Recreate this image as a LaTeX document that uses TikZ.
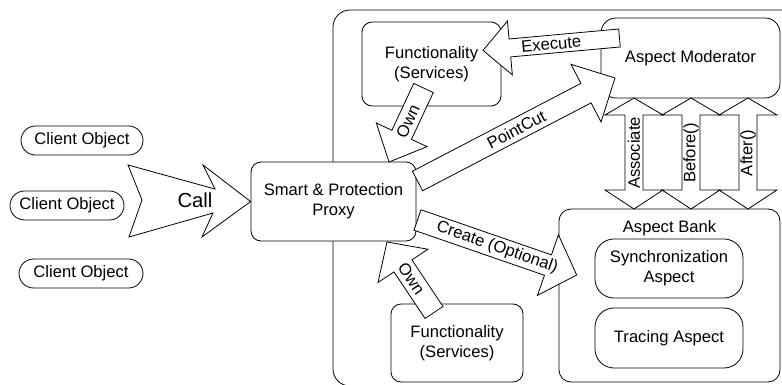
\documentclass[tikz,border=0pt]{standalone}
\usepackage{fontspec}
\setmainfont{Liberation Sans}
\usetikzlibrary{calc}
% Block arrow: #1 tail, #2 tip, #3 shaft half-width, #4 head length, #5 head half-width
\newcommand\blockarr[5]{%
  \coordinate (ba) at ($(#2)!#4!(#1)$);
  \draw[arrowbody] ($(#1)!#3!90:(#2)$) -- ($(ba)!#3!90:(#2)$) -- ($(ba)!#5!90:(#2)$) -- (#2)
    -- ($(ba)!#5!-90:(#2)$) -- ($(ba)!#3!-90:(#2)$) -- ($(#1)!#3!-90:(#2)$) -- cycle;
}
\begin{document}
\begin{tikzpicture}[x=1pt,y=-1pt,
  every node/.style={font=\fontsize{16.6}{20}\selectfont, inner sep=0pt, align=center},
  outline/.style={draw=black, line width=0.8pt},
  box/.style={outline, fill=white, rounded corners=#1},
  box/.default=10pt,
  pill/.style={outline, fill=white, rounded corners=14.5pt, minimum height=29pt},
  arrowbody/.style={outline, fill=white, line join=miter}]
\clip (0,0) rectangle (782,385);

% surrounding frame of the proxy side
\draw[outline, rounded corners=17pt] (800,10) -- (333,10) -- (333,386) -- (800,386);

% clients
\node[pill, minimum width=122pt] (client1) at (82,140.5) {Client Object};
\node[pill, minimum width=114pt] (client2) at (67,205.5) {Client Object};
\node[pill, minimum width=124pt] (client3) at (81,273.5) {Client Object};

% main boxes
\node[box, minimum width=165pt, minimum height=79pt] (proxy) at (333.5,201.5) {Smart \& Protection\\Proxy};
\node[box, minimum width=139pt, minimum height=84pt] (funcTop) at (431.5,64) {Functionality\\(Services)};
\node[box, minimum width=132pt, minimum height=78pt] (funcBot) at (457,343) {Functionality\\(Services)};
\node[box=15pt, minimum width=179pt, minimum height=80pt] (mod) at (690.5,58) {Aspect Moderator};
\node[box=12pt, minimum width=221pt, minimum height=173pt] (bank) at (669.5,295.5) {};
\node (bankTitle) at (669.5,228) {Aspect Bank};
\node[box=19pt, minimum width=148pt, minimum height=59pt] (sync) at (669,268.5) {Synchronization\\Aspect};
\node[box=19pt, minimum width=148pt, minimum height=60pt] (trace) at (669,338) {Tracing Aspect};

% call arrow from the clients into the proxy
\draw[arrowbody] (128,165) -- (215,189) -- (203,165) -- (proxy.west) -- (202,237)
  -- (213,213) -- (129,237) -- (142,200) -- cycle;
\node[font=\fontsize{20.3}{24}\selectfont] (callLbl) at (195,200) {Call};

% execute
\coordinate (exT) at (619.5,38);
\coordinate (exP) at (483,50.4);
\blockarr{exT}{exP}{9pt}{27pt}{27pt}
\path (exT) -- (exP) node[sloped, pos=0.5] (exLbl) {Execute};

% pointcut
\coordinate (pcT) at (417.5,181);
\coordinate (pcP) at (615,78);
\blockarr{pcT}{pcP}{11pt}{32.7pt}{32.5pt}
\path (pcT) -- (pcP) node[sloped, pos=0.5] (pcLbl) {PointCut};

% create
\coordinate (crT) at (417.5,220);
\coordinate (crP) at (576.7,275);
\blockarr{crT}{crP}{10.8pt}{30.4pt}{32pt}
\path (crT) -- (crP) node[sloped, pos=0.5] (crLbl) {Create (Optional)};

% own (upper functionality)
\coordinate (ownAT) at (423.5,88);
\coordinate (ownAP) at (389,162);
\blockarr{ownAT}{ownAP}{10.8pt}{30pt}{28pt}
\path (ownAT) -- (ownAP) node[sloped, pos=0.45] (ownALbl) {Own};

% own (lower functionality)
\coordinate (ownBT) at (434,312.5);
\coordinate (ownBP) at (387,242);
\blockarr{ownBT}{ownBP}{10.8pt}{28.7pt}{30pt}
\path (ownBT) -- (ownBP) node[sloped, pos=0.48] (ownBLbl) {Own};

% moderator <-> bank double arrows
\foreach \cx/\txt/\nm in {634/Associate/assoc, 691/Before()/before, 748/After()/after} {
  \draw[arrowbody] (\cx,98) -- (\cx+29,115) -- (\cx+9,115) -- (\cx+9,190) -- (\cx+29,190)
    -- (\cx,209) -- (\cx-29,190) -- (\cx-9,190) -- (\cx-9,115) -- (\cx-29,115) -- cycle;
  \node[rotate=90] (\nm) at (\cx,153) {\txt};
}
\end{tikzpicture}
\end{document}
